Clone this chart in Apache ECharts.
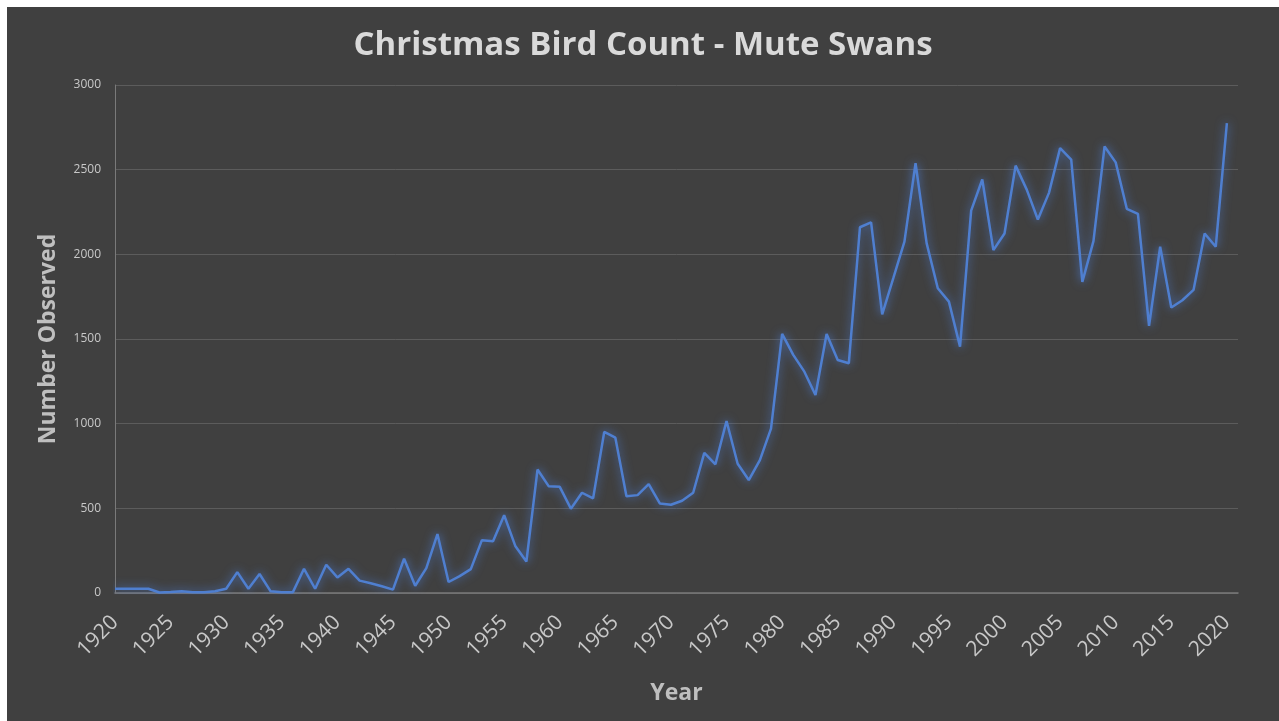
<!DOCTYPE html>
<html>
<head>
<meta charset="utf-8">
<title>Christmas Bird Count - Mute Swans</title>
<script src="https://cdn.jsdelivr.net/npm/echarts@6/dist/echarts.min.js"></script>
<style>
  html, body { margin: 0; padding: 0; background: #ffffff; }
  #chart { position: absolute; left: 7px; top: 7px; width: 1272px; height: 714px; }
</style>
</head>
<body>
<div id="chart"></div>
<script>
const years = [
  1920, 1921, 1922, 1923, 1924, 1925, 1926, 1927, 1928, 1929,
  1930, 1931, 1932, 1933, 1934, 1935, 1936, 1937, 1938, 1939,
  1940, 1941, 1942, 1943, 1944, 1945, 1946, 1947, 1948, 1949,
  1950, 1951, 1952, 1953, 1954, 1955, 1956, 1957, 1958, 1959,
  1960, 1961, 1962, 1963, 1964, 1965, 1966, 1967, 1968, 1969,
  1970, 1971, 1972, 1973, 1974, 1975, 1976, 1977, 1978, 1979,
  1980, 1981, 1982, 1983, 1984, 1985, 1986, 1987, 1988, 1989,
  1990, 1991, 1992, 1993, 1994, 1995, 1996, 1997, 1998, 1999,
  2000, 2001, 2002, 2003, 2004, 2005, 2006, 2007, 2008, 2009,
  2010, 2011, 2012, 2013, 2014, 2015, 2016, 2017, 2018, 2019,
  2020
]

const swans = [
  25, 25, 25, 25, 3, 6, 10, 4, 5, 10,
  25, 123, 25, 112, 10, 5, 5, 143, 25, 167,
  92, 143, 73, 58, 40, 20, 202, 43, 147, 348,
  65, 100, 141, 312, 306, 459, 278, 186, 729, 631,
  627, 498, 592, 559, 951, 917, 572, 578, 643, 529,
  521, 545, 592, 828, 760, 1016, 763, 667, 785, 971,
  1530, 1406, 1307, 1169, 1530, 1376, 1357, 2160, 2189, 1646,
  1859, 2075, 2538, 2065, 1800, 1721, 1455, 2258, 2442, 2025,
  2123, 2524, 2382, 2206, 2363, 2627, 2559, 1837, 2078, 2637,
  2543, 2269, 2239, 1578, 2045, 1686, 1729, 1790, 2123, 2045,
  2775
]

// y ticks 0..3000 step 500, x ticks every 5 years
const yTicks = [0, 500, 1000, 1500, 2000, 2500, 3000]

const chart = echarts.init(document.getElementById('chart'))

const font = '"Open Sans", Lato, sans-serif'

const option = {
  backgroundColor: '#404040',
  animation: false,
  title: {
    text: 'Christmas Bird Count - Mute Swans',
    left: 'center',
    top: 17,
    textStyle: {
      color: '#d9d9d9',
      fontSize: 33,
      fontWeight: 'bold',
      fontFamily: font,
    },
  },
  grid: {
    left: 108,
    right: 41,
    top: 78,
    bottom: 128,
  },
  xAxis: {
    type: 'value',
    min: 1920,
    max: 2021,
    interval: 5,
    name: 'Year',
    nameLocation: 'middle',
    nameGap: 89,
    nameTextStyle: {
      color: '#bfbfbf',
      fontSize: 23,
      fontWeight: 'bold',
      fontFamily: font,
    },
    axisLine: { show: true, lineStyle: { color: '#7a7a7a', width: 1.5 } },
    axisTick: { show: false },
    splitLine: { show: false },
    axisLabel: {
      rotate: 45,
      margin: 26,
      color: '#c8c8c8',
      fontSize: 21,
      fontFamily: font,
      showMaxLabel: false,
      formatter: (v) => String(v),
    },
  },
  yAxis: {
    type: 'value',
    min: yTicks[0],
    max: yTicks[yTicks.length - 1],
    interval: 500,
    name: 'Number Observed',
    nameLocation: 'middle',
    nameGap: 55,
    nameTextStyle: {
      color: '#bfbfbf',
      fontSize: 23,
      fontWeight: 'bold',
      fontFamily: font,
    },
    axisLine: { show: true, lineStyle: { color: '#7a7a7a', width: 1 } },
    axisTick: { show: false },
    splitLine: { lineStyle: { color: '#5c5c5c', width: 1 } },
    axisLabel: {
      margin: 14,
      color: '#c8c8c8',
      fontSize: 12,
      fontFamily: font,
      formatter: (v) => String(v),
    },
  },
  series: [
    {
      name: 'Mute Swans',
      type: 'line',
      data: years.map((y, i) => [y, swans[i]]),
      showSymbol: false,
      lineStyle: {
        color: '#4f7fd0',
        width: 2.5,
        shadowColor: 'rgba(78, 128, 220, 0.9)',
        shadowBlur: 10,
      },
      itemStyle: { color: '#4f7fd0' },
    },
  ],
}

chart.setOption(option)
</script>
</body>
</html>
